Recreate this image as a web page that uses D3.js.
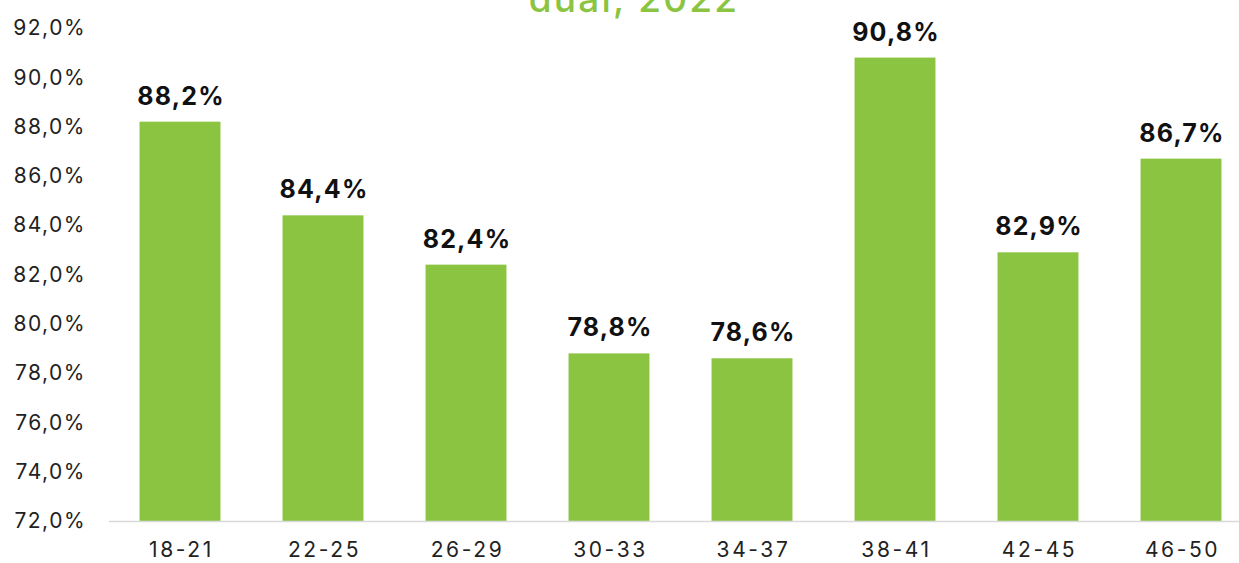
<!DOCTYPE html>
<html>
<head>
<meta charset="utf-8">
<script src="https://cdn.jsdelivr.net/npm/d3@7"></script>
<style>
  html, body { margin: 0; padding: 0; background: #fff; overflow: hidden; }
  svg { display: block; font-family: "Inter", "Noto Sans", sans-serif; }
</style>
</head>
<body>
<svg id="chart" width="1239" height="563"></svg>
<script>
// Age groups and their shares
const categories = ["18-21", "22-25", "26-29", "30-33", "34-37", "38-41", "42-45", "46-50"];
const values = [88.2, 84.4, 82.4, 78.8, 78.6, 90.8, 82.9, 86.7];
const yTicks = [72, 74, 76, 78, 80, 82, 84, 86, 88, 90, 92];
const titleText = "dual, 2022";

const green = "#8AC441";
const font = "Inter, 'Noto Sans', sans-serif";
const svg = d3.select("#chart");

const x = d3.scaleBand()
  .domain(categories)
  .range([108.5, 1252.5])
  .paddingInner(0.434)
  .paddingOuter(0.217);

const y = d3.scaleLinear().domain([72, 92]).range([521, 28]);

const fmt = v => v.toFixed(1).replace(".", ",") + "%";

// Title (its upper part runs past the top edge)
svg.append("text")
  .attr("x", 634).attr("y", 12)
  .attr("text-anchor", "middle")
  .attr("fill", green)
  .attr("font-size", 37)
  .attr("font-weight", 500)
  .attr("letter-spacing", 2.2)
  .text(titleText);

// Bars
svg.append("g").selectAll("rect")
  .data(values)
  .join("rect")
  .attr("x", (d, i) => x(categories[i]))
  .attr("width", x.bandwidth())
  .attr("y", d => y(d))
  .attr("height", d => y(72) - y(d))
  .attr("fill", green);

// Value labels
svg.append("g").selectAll("text")
  .data(values)
  .join("text")
  .attr("x", (d, i) => x(categories[i]) + x.bandwidth() / 2 + 1)
  .attr("y", d => y(d) - 17)
  .attr("text-anchor", "middle")
  .attr("font-size", 25)
  .attr("font-weight", 700)
  .attr("letter-spacing", 1.2)
  .attr("fill", "#111")
  .text(fmt);

// Y axis
const yAxis = svg.append("g")
  .attr("transform", "translate(86,0)")
  .call(d3.axisLeft(y).tickValues(yTicks).tickSize(0).tickPadding(0).tickFormat(fmt));
yAxis.select(".domain").remove();
yAxis.selectAll("text")
  .attr("font-size", 21)
  .attr("letter-spacing", 1.5)
  .attr("fill", "#222")
  .attr("font-family", font);

// X axis
const xAxis = svg.append("g")
  .attr("transform", "translate(0,521)")
  .call(d3.axisBottom(x).tickSize(0).tickPadding(21));
xAxis.select(".domain").attr("stroke", "#d9d9d9").attr("stroke-width", 1.5);
xAxis.selectAll("text")
  .attr("font-size", 21)
  .attr("letter-spacing", 2.6)
  .attr("dx", 1.5)
  .attr("fill", "#222")
  .attr("font-family", font);
</script>
</body>
</html>
